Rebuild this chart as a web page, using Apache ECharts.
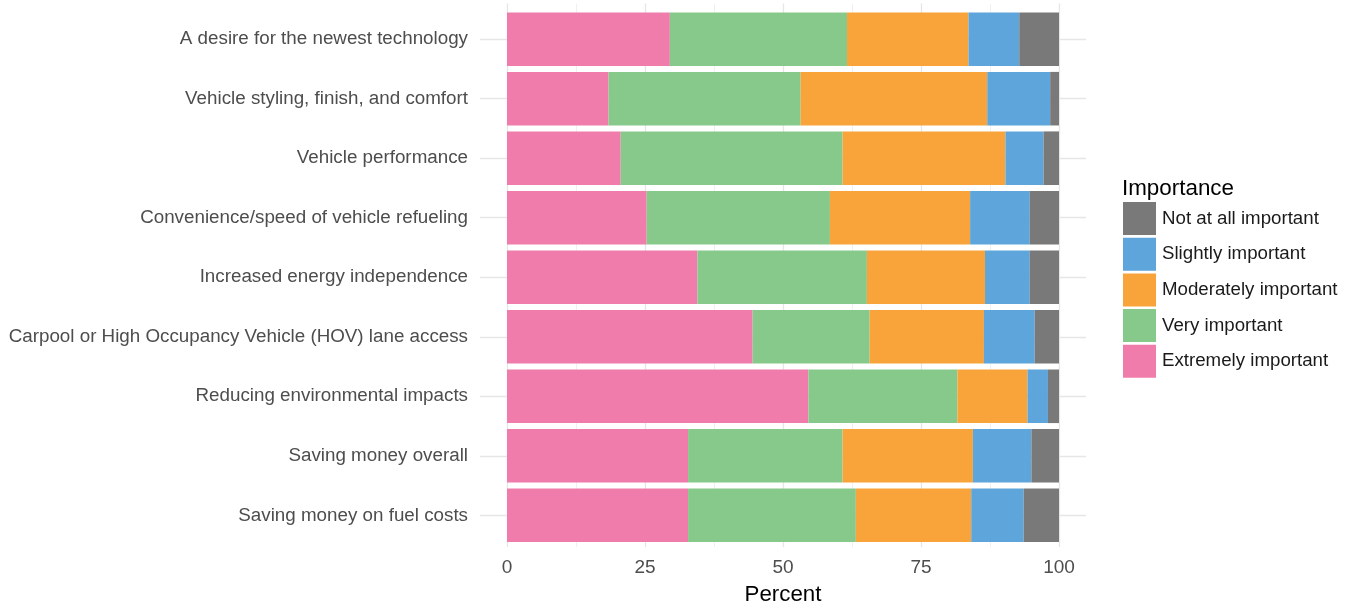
<!DOCTYPE html>
<html><head><meta charset="utf-8">
<script src="https://cdn.jsdelivr.net/npm/echarts@6/dist/echarts.min.js"></script>
<style>html,body{margin:0;padding:0;background:#fff}#c{width:1352px;height:611px}</style>
</head><body><div id="c"></div>
<script>
const categories = [
  'A desire for the newest technology',
  'Vehicle styling, finish, and comfort',
  'Vehicle performance',
  'Convenience/speed of vehicle refueling',
  'Increased energy independence',
  'Carpool or High Occupancy Vehicle (HOV) lane access',
  'Reducing environmental impacts',
  'Saving money overall',
  'Saving money on fuel costs'
];
const extremelyImportant  = [29.5, 18.4, 20.6, 25.3, 34.5, 44.5, 54.6, 32.8, 32.8];
const veryImportant       = [32.1, 34.8, 40.2, 33.2, 30.7, 21.2, 27.0, 28.0, 30.4];
const moderatelyImportant = [22.0, 33.8, 29.5, 25.4, 21.4, 20.7, 12.7, 23.6, 20.9];
const slightlyImportant   = [ 9.2, 11.4,  6.9, 10.8,  8.1,  9.2,  3.7, 10.6,  9.5];
const notAtAllImportant   = [ 7.2,  1.6,  2.8,  5.3,  5.3,  4.4,  2.0,  5.0,  6.4];
const xTicks = [0, 25, 50, 75, 100];
const legendOrder = ['Not at all important','Slightly important','Moderately important','Very important','Extremely important'];

const seriesDefs = [
  ['Extremely important', extremelyImportant, '#F07CAB'],
  ['Very important', veryImportant, '#87C98B'],
  ['Moderately important', moderatelyImportant, '#F8A43B'],
  ['Slightly important', slightlyImportant, '#5DA5DA'],
  ['Not at all important', notAtAllImportant, '#797979']
];

const FONT = "'Liberation Sans', Arial, sans-serif";
const chart = echarts.init(document.getElementById('c'), null, {renderer: 'canvas'});
chart.setOption({
  animation: false,
  backgroundColor: '#ffffff',
  textStyle: {fontFamily: FONT},
  title: {
    text: 'Importance', left: 1117, top: 173,
    textStyle: {fontSize: 22.4, fontWeight: 'normal', color: '#000', fontFamily: FONT}
  },
  legend: {
    orient: 'vertical', left: 1118, top: 197,
    itemWidth: 33, itemHeight: 33, itemGap: 2.7,
    data: legendOrder,
    textStyle: {fontSize: 18.7, color: '#1a1a1a', fontFamily: FONT, padding: [0, 0, 0, 1]},
    icon: 'rect'
  },
  grid: [
    {left: 480, right: 266, top: 39.2, bottom: 95.7},
    {left: 507, width: 552, top: 3.5, bottom: 60},
    {left: 507, width: 552, top: 9.4, bottom: 65.9}
  ],
  xAxis: [
    {gridIndex: 0, type: 'value', min: 0, max: 1, show: false},
    {gridIndex: 1, type: 'value', min: xTicks[0], max: xTicks[xTicks.length-1], interval: 25,
     axisLine: {show: false}, axisTick: {show: false},
     axisLabel: {fontSize: 19, color: '#4D4D4D', margin: 11, fontFamily: FONT},
     splitLine: {show: true, lineStyle: {color: '#E6E6E6', width: 1.3}},
     minorTick: {show: false, splitNumber: 2},
     minorSplitLine: {show: true, lineStyle: {color: '#F0F0F0', width: 1}},
     name: 'Percent', nameLocation: 'middle', nameGap: 37,
     nameTextStyle: {fontSize: 22.3, color: '#000', fontFamily: FONT}},
    {gridIndex: 2, type: 'value', min: 0, max: 100, show: false}
  ],
  yAxis: [
    {gridIndex: 0, type: 'value', min: 0, max: 8, interval: 1,
     axisLine: {show: false}, axisTick: {show: false}, axisLabel: {show: false},
     splitLine: {show: true, lineStyle: {color: '#E6E6E6', width: 1.3}}},
    {gridIndex: 1, type: 'value', min: 0, max: 1, show: false},
    {gridIndex: 2, type: 'category', data: categories, inverse: true,
     axisLine: {show: false}, axisTick: {show: false},
     axisLabel: {fontSize: 18.8, color: '#4D4D4D', margin: 39, fontFamily: FONT, padding: [8, 0, 0, 0]},
     splitLine: {show: false}}
  ],
  series: seriesDefs.map(([name, data, color]) => ({
    name, type: 'bar', stack: 'total', data,
    xAxisIndex: 2, yAxisIndex: 2,
    barWidth: '90%',
    itemStyle: {color},
    emphasis: {disabled: true}
  }))
});
</script>
</body></html>
